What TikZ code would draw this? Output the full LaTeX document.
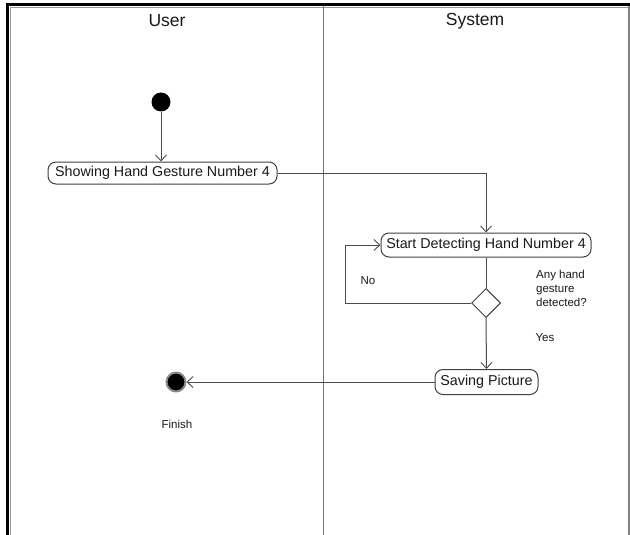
\documentclass[tikz,border=0pt]{standalone}
\usepackage{fontspec}
\setmainfont{Liberation Sans}
\usetikzlibrary{arrows.meta,shapes.geometric}
\tikzset{
  lane/.style={draw=black!55, line width=1.2pt},
  act/.style={draw=black!75, line width=1pt, rounded corners=8pt, fill=white, inner sep=0pt, text=black!90, font=\fontsize{14.3}{16}\selectfont},
  flow/.style={draw=black!70, line width=1pt, -{Straight Barb[length=6pt,width=11pt,line width=0.9pt]}},
  plain/.style={draw=black!70, line width=1pt},
  lbl/.style={text=black!90, font=\fontsize{11.5}{14}\selectfont, inner sep=0pt},
  head/.style={text=black!90, font=\fontsize{17.5}{20}\selectfont, inner sep=0pt},
  decision/.style={diamond, draw=black!75, line width=1pt, fill=white, minimum width=29pt, minimum height=29pt, inner sep=0pt, aspect=1}
}
\begin{document}
\begin{tikzpicture}[x=1pt,y=-1pt]
\useasboundingbox (0,0) rectangle (630,535);
\fill[white] (0,0) rectangle (630,535);
% frame
\draw[black!40, line width=1pt] (10.5,7.5) -- (10.5,535);
\draw[black!40, line width=1pt] (10.5,7.5) -- (630,7.5);
\draw[black, line width=3pt] (7.5,3) -- (7.5,535);
\draw[black, line width=3pt] (6,4.5) -- (630,4.5);
\draw[black!50, line width=1.5pt] (629,6) -- (629,535);
% lane divider
\draw[lane] (323.5,6) -- (323.5,535);
% headers
\node[head] (huser) at (167,21) {User};
\node[head] (hsys) at (475,21) {System};
% nodes
\node[circle, fill=black, minimum size=19pt, inner sep=0pt] (start) at (161,102) {};
\node[act, minimum width=229pt, minimum height=22pt] (show) at (162.5,173) {Showing Hand Gesture Number 4};
\node[act, minimum width=210pt, minimum height=24pt] (detect) at (486,245) {Start Detecting Hand Number 4};
\node[decision] (dec) at (486,303) {};
\node[act, minimum width=103pt, minimum height=25pt] (save) at (486.5,382) {Saving Picture};
\node[circle, fill=black, draw=black!45, line width=2pt, minimum size=19pt, inner sep=0pt] (finish) at (176,382) {};
% labels
\node[lbl] (no) at (368,281) {No};
\node[lbl, align=left, anchor=west] (q) at (536,288) {Any hand\\gesture\\detected?};
\node[lbl] (yes) at (545,338) {Yes};
\node[lbl] (fin) at (177,424) {Finish};
% connectors
\draw[flow] (start.south) -- (start |- show.north);
\draw[flow] (show.east) -- (486,173) -- (detect.north);
\draw[plain] (detect.south) -- (dec.north);
\draw[flow] (dec.west) -- (345.5,303) -- (345.5,245) -- (detect.west);
\draw[flow] (dec.south) -- (save.north);
\draw[flow] (save.west) -- (finish.east);
\end{tikzpicture}
\end{document}
